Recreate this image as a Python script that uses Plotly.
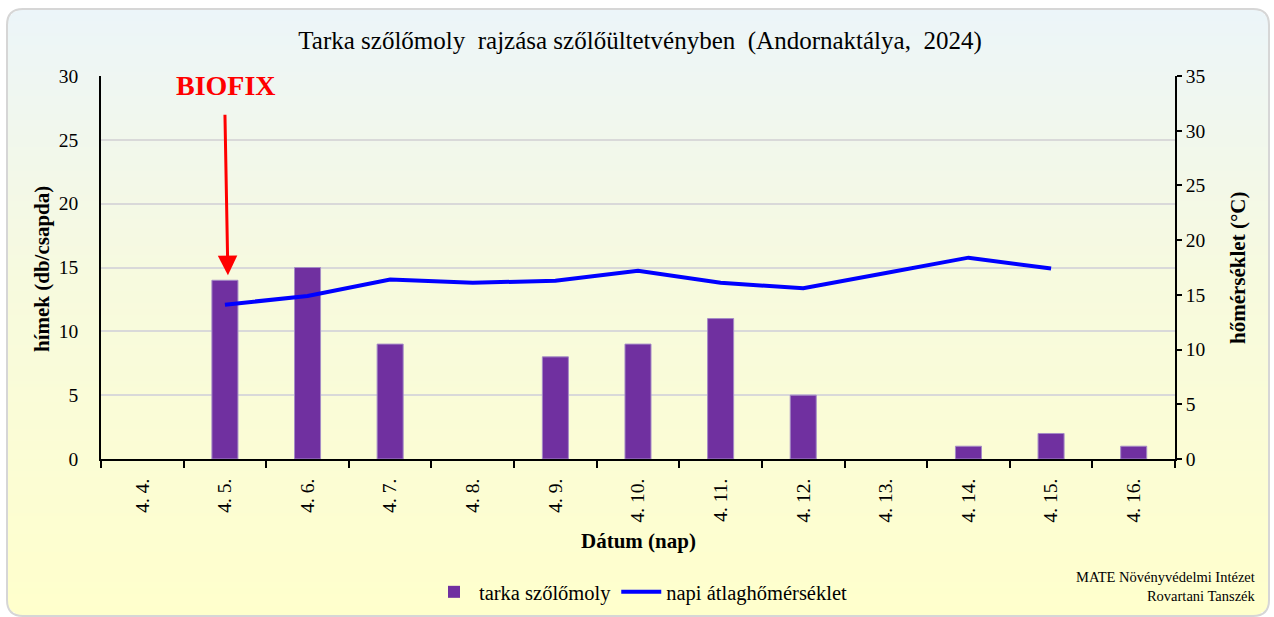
import plotly.graph_objects as go

# Daily data
dates = ["4. 4.", "4. 5.", "4. 6.", "4. 7.", "4. 8.", "4. 9.", "4. 10.",
         "4. 11.", "4. 12.", "4. 13.", "4. 14.", "4. 15.", "4. 16."]
males_per_trap = [0, 14, 15, 9, 0, 8, 9, 11, 5, 0, 1, 2, 1]
mean_temp_c = [None, 14.1, 14.9, 16.4, 16.1, 16.3, 17.2, 16.1, 15.6, 17.0, 18.4, 17.4, None]

left_ticks = [0, 5, 10, 15, 20, 25, 30]
right_ticks = [0, 5, 10, 15, 20, 25, 30, 35]

W, H = 1274, 617
ML, MR, MT, MB = 101, 99, 76, 158
PW, PH = W - ML - MR, H - MT - MB
SERIF = "Liberation Serif"


def px_x(p):
    return (p - ML) / PW


def px_y(p):
    return (H - MB - p) / PH


def lerp_color(stops, t):
    for (t0, c0), (t1, c1) in zip(stops, stops[1:]):
        if t <= t1:
            f = (t - t0) / (t1 - t0) if t1 > t0 else 0
            return "rgb(%d,%d,%d)" % tuple(round(a + (b - a) * f) for a, b in zip(c0, c1))
    return "rgb(%d,%d,%d)" % stops[-1][1]


fig = go.Figure()

fig.add_trace(go.Bar(
    x=dates, y=males_per_trap, name="tarka szőlőmoly",
    marker=dict(color="#7030A0",
                line=dict(color="#A58BC6", width=[1 if v else 0 for v in males_per_trap])),
    yaxis="y",
))
fig.add_trace(go.Scatter(
    x=dates, y=mean_temp_c, name="napi átlaghőmérséklet", mode="lines",
    line=dict(color="#0000FF", width=4), yaxis="y2",
))

# Rounded panel with a vertical gradient
bx0, bx1, by0, by1, r = 7, 1269, 9, 616, 16
grad = [(0.0, (236, 245, 249)), (0.45, (247, 250, 222)), (1.0, (255, 255, 204))]
shapes = []
step = 3
y = by0
while y < by1:
    y2 = min(y + step, by1)
    yc = (y + y2) / 2
    inset = 0
    if yc < by0 + r:
        d = by0 + r - yc
        inset = r - (max(r * r - d * d, 0)) ** 0.5
    elif yc > by1 - r:
        d = yc - (by1 - r)
        inset = r - (max(r * r - d * d, 0)) ** 0.5
    col = lerp_color(grad, (yc - by0) / (by1 - by0))
    shapes.append(dict(type="rect", xref="paper", yref="paper", layer="below",
                       x0=px_x(bx0 + inset), x1=px_x(bx1 - inset),
                       y0=px_y(y2), y1=px_y(y), fillcolor=col, line_width=0))
    y = y2


def P(x, y):
    return f"{px_x(x)},{px_y(y)}"


# Panel border with rounded corners
border = (f"M {P(bx0 + r, by0)} L {P(bx1 - r, by0)} Q {P(bx1, by0)} {P(bx1, by0 + r)} "
          f"L {P(bx1, by1 - r)} Q {P(bx1, by1)} {P(bx1 - r, by1)} "
          f"L {P(bx0 + r, by1)} Q {P(bx0, by1)} {P(bx0, by1 - r)} "
          f"L {P(bx0, by0 + r)} Q {P(bx0, by0)} {P(bx0 + r, by0)} Z")
shapes.append(dict(type="path", xref="paper", yref="paper", layer="below",
                   path=border, line=dict(color="#D6D6D6", width=2)))

annotations = [
    dict(text="<b>BIOFIX</b>", xref="x", yref="paper", x="4. 5.", y=px_y(85), xshift=1,
         xanchor="center", yanchor="middle",
         showarrow=False, font=dict(family=SERIF, size=28, color="#FF0000")),
    dict(text="", xref="x", yref="y", x="4. 5.", y=males_per_trap[1] + 0.4, xshift=3,
         showarrow=True, ax=-3, ay=-162, arrowcolor="#FF0000", arrowwidth=3,
         arrowhead=2, arrowsize=1.3),
    dict(text="<b>hímek (db/csapda)</b>", xref="paper", yref="paper", x=px_x(42), y=px_y(269),
         xanchor="center", yanchor="middle", textangle=-90, showarrow=False,
         font=dict(family=SERIF, size=21, color="black")),
    dict(text="<b>hőmérséklet (°C)</b>", xref="paper", yref="paper", x=px_x(1238), y=px_y(268),
         xanchor="center", yanchor="middle", textangle=-90, showarrow=False,
         font=dict(family=SERIF, size=21, color="black")),
    dict(text="<b>Dátum (nap)</b>", xref="paper", yref="paper", x=px_x(638), y=px_y(541),
         xanchor="center", yanchor="middle",
         showarrow=False, font=dict(family=SERIF, size=21, color="black")),
    dict(text="MATE Növényvédelmi Intézet<br>Rovartani Tanszék", xref="paper", yref="paper",
         x=px_x(1258), y=px_y(586), xanchor="right", yanchor="middle", align="right",
         showarrow=False, font=dict(family=SERIF, size=14.5, color="black")),
]

fig.update_layout(
    width=W, height=H,
    margin=dict(l=ML, r=MR, t=MT, b=MB),
    paper_bgcolor="white", plot_bgcolor="rgba(0,0,0,0)",
    title=dict(text="Tarka szőlőmoly  rajzása szőlőültetvényben  (Andornaktálya,  2024)",
               x=640 / W, xanchor="center", y=1 - 40 / H, yanchor="middle",
               font=dict(family=SERIF, size=25, color="black")),
    font=dict(family=SERIF, color="black"),
    bargap=0.685,
    showlegend=True,
    legend=dict(orientation="h", xref="container", yref="container",
                x=641 / W, xanchor="center", y=1 - 592 / H, yanchor="middle",
                bgcolor="rgba(0,0,0,0)", itemwidth=40,
                font=dict(family=SERIF, size=20.5, color="black")),
    xaxis=dict(type="category", tickangle=-90, tickson="boundaries", ticks="outside",
               ticklen=7, tickwidth=1.5, tickcolor="black", showline=True,
               linecolor="black", linewidth=1.5, showgrid=False, ticklabelstandoff=10,
               automargin=False,
               tickfont=dict(family=SERIF, size=19.5, color="black")),
    yaxis=dict(range=[0, 30], tickvals=left_ticks, showline=True, linecolor="black",
               linewidth=1.5, showgrid=True, gridcolor="#D9D9D9", gridwidth=1.5,
               zeroline=False, ticks="", ticklabelstandoff=17, automargin=False,
               tickfont=dict(family=SERIF, size=19.5, color="black")),
    yaxis2=dict(range=[0, 35], tickvals=right_ticks, overlaying="y", side="right",
                showline=True, linecolor="black", linewidth=1.5, showgrid=False,
                zeroline=False, ticks="outside", ticklen=5, tickwidth=1.5, automargin=False,
                tickcolor="black", tickfont=dict(family=SERIF, size=19.5, color="black")),
    shapes=shapes,
    annotations=annotations,
)

fig.write_html("out.html")
